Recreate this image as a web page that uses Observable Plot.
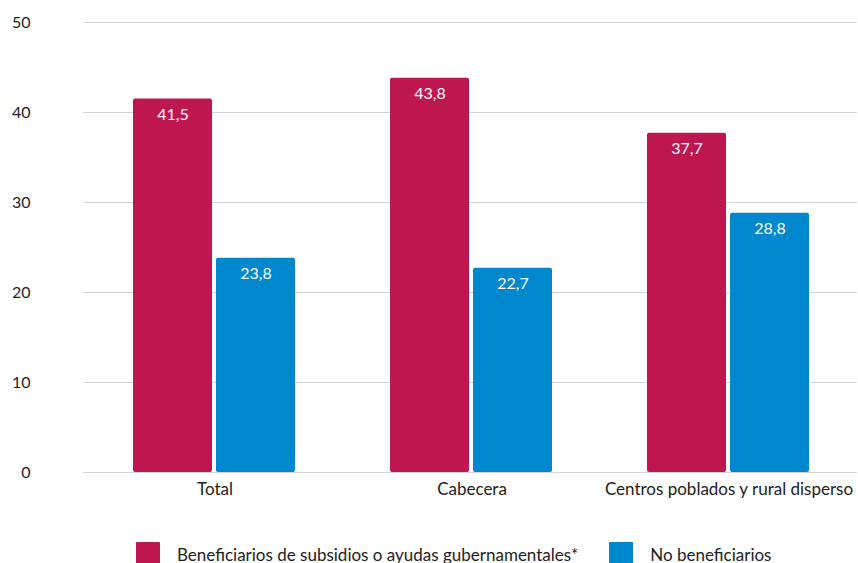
<!DOCTYPE html>
<html>
<head>
<meta charset="utf-8">
<script src="https://cdn.jsdelivr.net/npm/d3@7"></script>
<script src="https://cdn.jsdelivr.net/npm/@observablehq/plot@0.6"></script>
<style>
  body { margin: 0; background: #fff; font-family: Lato, "Open Sans", sans-serif; overflow: hidden; }
  #legend { display: flex; align-items: center; font-size: 17px; color: #222; padding-top: 32px; padding-left: 136px; height: 24px; }
  .item { display: flex; align-items: center; }
  .sw { width: 24px; height: 24px; margin-right: 17px; border-radius: 1px; }
</style>
</head>
<body>
<div id="chart"></div>
<div id="legend"></div>
<script>
const categories = ["Total", "Cabecera", "Centros poblados y rural disperso"];
const seriesNames = ["Beneficiarios de subsidios o ayudas gubernamentales*", "No beneficiarios"];
const beneficiarios = [41.5, 43.8, 37.7];
const noBeneficiarios = [23.8, 22.7, 28.8];
const colors = ["#BE1750", "#0088CF"];
const yTicks = [0, 10, 20, 30, 40, 50];

const data = [];
categories.forEach((c, i) => {
  data.push({cat: c, serie: seriesNames[0], value: beneficiarios[i]});
  data.push({cat: c, serie: seriesNames[1], value: noBeneficiarios[i]});
});
const fmt = v => v.toFixed(1).replace(".", ",");

const chart = Plot.plot({
  width: 858,
  height: 510,
  marginTop: 22,
  marginBottom: 38,
  marginLeft: 86,
  marginRight: 1,
  style: {fontFamily: "Lato, 'Open Sans', sans-serif", fontSize: "16px", color: "#222"},
  fx: {domain: categories, padding: 0, label: null},
  x: {domain: seriesNames, paddingInner: 0.048, paddingOuter: 0.554, axis: null},
  y: {domain: [0, 50], label: null},
  color: {domain: seriesNames, range: colors},
  marks: [
    Plot.ruleY(yTicks, {stroke: "#d4d4d4", strokeWidth: 1, insetLeft: -3}),
    Plot.axisY(yTicks, {tickSize: 0, tickPadding: 56, label: null, fontSize: 16}),
    Plot.axisFx({anchor: "bottom", tickSize: 0, tickPadding: 10, label: null, fontSize: 17}),
    Plot.barY(data, {fx: "cat", x: "serie", y: "value", fill: "serie", rx: 2}),
    Plot.text(data, {fx: "cat", x: "serie", y: "value", text: d => fmt(d.value), fill: "white", dy: 16, fontSize: 16})
  ]
});
document.getElementById("chart").appendChild(chart);

const legend = document.getElementById("legend");
seriesNames.forEach((s, i) => {
  const item = document.createElement("div");
  item.className = "item";
  item.style.marginRight = i === 0 ? "31px" : "0";
  const sw = document.createElement("div");
  sw.className = "sw";
  sw.style.background = colors[i];
  const t = document.createElement("span");
  t.textContent = s;
  item.appendChild(sw);
  item.appendChild(t);
  legend.appendChild(item);
});
</script>
</body>
</html>
